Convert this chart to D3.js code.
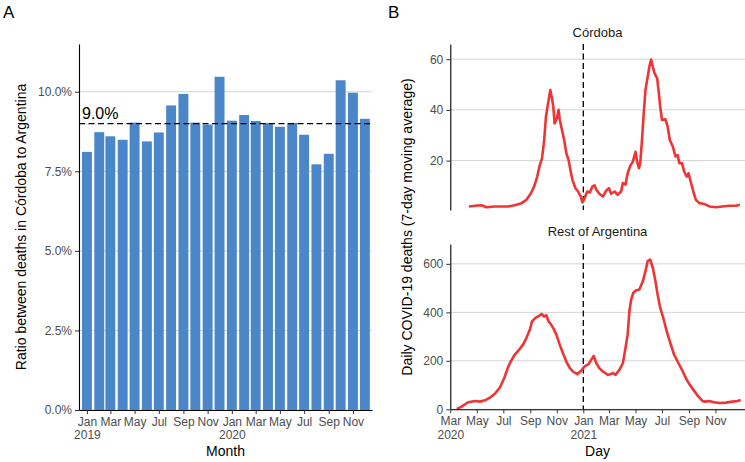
<!DOCTYPE html>
<html><head><meta charset="utf-8">
<script src="https://cdn.jsdelivr.net/npm/d3@7"></script>
<style>body{margin:0;background:#fff}svg{display:block;font-family:"Liberation Sans",Arial,sans-serif}</style>
</head><body><svg width="745" height="462"></svg>
<script>
// ---------- DATA ----------
const months = ["2019-01-01","2019-02-01","2019-03-01","2019-04-01","2019-05-01","2019-06-01","2019-07-01","2019-08-01","2019-09-01","2019-10-01","2019-11-01","2019-12-01",
"2020-01-01","2020-02-01","2020-03-01","2020-04-01","2020-05-01","2020-06-01","2020-07-01","2020-08-01","2020-09-01","2020-10-01","2020-11-01","2020-12-01"];
const ratioPct = [8.11,8.73,8.60,8.49,9.03,8.44,8.72,9.57,9.93,9.03,8.97,10.47,9.09,9.27,9.08,9.02,8.90,9.02,8.65,7.72,8.05,10.36,9.97,9.15];
const meanRatio = 9.0;
const ratioTicks = [0,2.5,5,7.5,10];
const monthTicks = ["2019-01-01","2019-03-01","2019-05-01","2019-07-01","2019-09-01","2019-11-01","2020-01-01","2020-03-01","2020-05-01","2020-07-01","2020-09-01","2020-11-01"];

const cordobaDates = ["2020-04-13","2020-04-27","2020-05-12","2020-05-23","2020-06-11","2020-07-12","2020-07-27","2020-08-12","2020-08-23","2020-09-02","2020-09-10","2020-09-17","2020-09-23","2020-09-28","2020-10-03","2020-10-07","2020-10-12","2020-10-17","2020-10-21","2020-10-24","2020-10-27","2020-11-01","2020-11-05","2020-11-08","2020-11-13","2020-11-18","2020-11-23","2020-11-28","2020-12-03","2020-12-07","2020-12-14","2020-12-20","2020-12-26","2020-12-30",
"2021-01-04","2021-01-10","2021-01-16","2021-01-22","2021-01-27","2021-01-31","2021-02-07","2021-02-15","2021-02-23","2021-03-01","2021-03-06","2021-03-14","2021-03-21","2021-03-29","2021-04-02","2021-04-08","2021-04-13","2021-04-19","2021-04-25","2021-05-01","2021-05-05","2021-05-09","2021-05-12","2021-05-16","2021-05-20","2021-05-24","2021-05-29","2021-06-02","2021-06-06","2021-06-10","2021-06-14","2021-06-20","2021-06-23","2021-06-27","2021-07-01","2021-07-09","2021-07-14","2021-07-19","2021-07-26","2021-08-01","2021-08-06","2021-08-10","2021-08-16","2021-08-21","2021-08-27","2021-08-31","2021-09-06","2021-09-11","2021-09-17","2021-09-25","2021-10-06","2021-10-18","2021-11-02","2021-11-17","2021-12-03","2021-12-18","2021-12-27"];
const cordobaDeaths = [1.9,2.2,2.4,1.6,1.9,1.9,2.4,3.2,4.5,6.9,9.8,13.7,18.3,20.9,28.1,37.3,42.6,47.8,44.5,41.2,34.7,36.5,40,36,32,28.1,22.9,20.3,15.7,12.4,9.1,7.8,5.8,3.5,
5.2,7.8,7.4,9.8,10.2,8.5,6.9,5.8,8.2,9.1,6.9,7.8,6.5,7.8,11.1,10.5,15.0,17.9,19.6,23.5,19.6,17,19,28.1,38.6,47.8,53,57,59.9,57,54.4,52.4,47.8,41.2,36,36.3,33.4,28.1,25.5,21.6,22.2,19,19,15.7,13.7,15,11.1,7.8,4.5,3.2,2.9,1.9,1.6,1.9,2.2,2.2,2.6];

const restDates = ["2020-03-16","2020-03-27","2020-04-11","2020-04-27","2020-05-08","2020-05-20","2020-05-31","2020-06-12","2020-06-23","2020-07-03","2020-07-11","2020-07-18","2020-07-27","2020-08-06","2020-08-16","2020-08-23","2020-08-31","2020-09-05","2020-09-13","2020-09-21","2020-09-27","2020-10-03","2020-10-08","2020-10-13","2020-10-18","2020-10-24","2020-10-31","2020-11-08","2020-11-15","2020-11-23","2020-12-01","2020-12-08","2020-12-18","2020-12-27",
"2021-01-04","2021-01-13","2021-01-19","2021-01-25","2021-01-31","2021-02-07","2021-02-15","2021-02-27","2021-03-10","2021-03-16","2021-03-25","2021-04-02","2021-04-08","2021-04-13","2021-04-17","2021-04-21","2021-04-26","2021-05-02","2021-05-10","2021-05-18","2021-05-24","2021-05-29","2021-06-04","2021-06-10","2021-06-16","2021-06-21","2021-06-27","2021-07-04","2021-07-12","2021-07-19","2021-07-29","2021-08-08","2021-08-16","2021-08-25","2021-09-03","2021-09-13","2021-09-23","2021-10-02","2021-10-08","2021-10-18","2021-10-29","2021-11-10","2021-11-25","2021-12-10","2021-12-22","2021-12-29"];
const restDeaths = [1.4,11,29,34.5,31.7,37,48,65,90,128,170,197,225,245,269,294,328,363,377,385,393,383,388,363,352,335,308,266,232,197,170,156,145,159,
177,186,204,220,190,170,156,142,149,142,163,190,252,308,404,452,480,490,494,528,570,611,618,583,528,473,418,377,321,280,225,190,163,128,101,76,52,34.5,31.7,34.5,29,26,27.6,31.7,34.5,38.6];

const cordobaTicks = [20,40,60];
const restTicks = [0,200,400,600];
const dayTicks = ["2020-03-01","2020-05-01","2020-07-01","2020-09-01","2020-11-01","2021-01-01","2021-03-01","2021-05-01","2021-07-01","2021-09-01","2021-11-01"];
const cutoffDate = "2021-01-01";

// ---------- SETUP ----------
const P = d3.timeParse("%Y-%m-%d");
const svg = d3.select("svg");
const FONT_TICK = 12, FONT_TITLE = 14;
const gridCol = "#d4d4d4", tickTextCol = "#4d4d4d";
const barCol = "#4a86c8", lineCol = "#ee3434";
const monthFmt = d3.timeFormat("%b"), yearFmt = d3.timeFormat("%Y");

function styleAxis(g) {
  g.select(".domain").attr("stroke", "#000").attr("stroke-width", 1.1);
  g.selectAll(".tick line").attr("stroke", "#333").attr("stroke-width", 1);
  g.selectAll(".tick text").attr("fill", tickTextCol).attr("font-size", FONT_TICK).attr("font-family", null);
}
function twoLineTicks(g) {
  g.selectAll(".tick text").each(function(d, i) {
    const t = d3.select(this); t.text(null);
    t.append("tspan").attr("x", 0).attr("dy", "0.71em").text(monthFmt(d));
    if (i === 0 || d.getMonth() === 0) {
      t.append("tspan").attr("x", 0).attr("dy", "1.15em").text(yearFmt(d));
    }
  });
}

// ---------- PANEL A ----------
const xA = d3.scaleTime().domain([P("2018-12-12"), P("2020-12-19")]).range([79, 372]);
const yA = d3.scaleLinear().domain([0, 11.5]).range([410, 44]);
const halfBar = 12.5 * 864e5;

svg.append("g").selectAll("line").data(ratioTicks).join("line")
  .attr("x1", 79).attr("x2", 372).attr("y1", d => yA(d)).attr("y2", d => yA(d))
  .attr("stroke", gridCol).attr("stroke-width", 1);

svg.append("g").selectAll("rect").data(months).join("rect")
  .attr("x", d => xA(new Date(+P(d) - halfBar)))
  .attr("width", d => xA(new Date(+P(d) + halfBar)) - xA(new Date(+P(d) - halfBar)))
  .attr("y", (d, i) => yA(ratioPct[i]))
  .attr("height", (d, i) => yA(0) - yA(ratioPct[i]))
  .attr("fill", barCol);

svg.append("line").attr("x1", 79).attr("x2", 372).attr("y1", yA(meanRatio)).attr("y2", yA(meanRatio))
  .attr("stroke", "#000").attr("stroke-width", 1.3).attr("stroke-dasharray", "6,3.5");
svg.append("text").attr("x", 82).attr("y", yA(meanRatio) - 5).attr("font-size", 16).attr("fill", "#000")
  .text(d3.format(".1f")(meanRatio) + "%");

svg.append("g").attr("transform", "translate(79,0)")
  .call(d3.axisLeft(yA).tickValues(ratioTicks).tickFormat(d => d3.format(".1f")(d) + "%").tickSize(4).tickPadding(3).tickSizeOuter(0))
  .call(styleAxis);
svg.append("g").attr("transform", "translate(0,410)")
  .call(d3.axisBottom(xA).tickValues(monthTicks.map(P)).tickSize(4).tickPadding(3).tickSizeOuter(0))
  .call(styleAxis).call(twoLineTicks);

svg.append("text").attr("x", 225.5).attr("y", 456).attr("text-anchor", "middle").attr("font-size", FONT_TITLE).text("Month");
svg.append("text").attr("transform", "translate(26,227) rotate(-90)").attr("text-anchor", "middle").attr("font-size", FONT_TITLE)
  .text("Ratio between deaths in Córdoba to Argentina");
svg.append("text").attr("x", 3).attr("y", 18).attr("font-size", 17).text("A");

// ---------- PANEL B ----------
const xB = d3.scaleTime().domain([P("2020-03-01"), P("2022-01-08")]).range([450.3, 745]);
const panels = [
  { name: "Córdoba", dates: cordobaDates, vals: cordobaDeaths, ticks: cordobaTicks, y: d3.scaleLinear().domain([0.5, 66]).range([210, 44]), top: 44, bottom: 210, stripY: 36.5, xAxis: false },
  { name: "Rest of Argentina", dates: restDates, vals: restDeaths, ticks: restTicks, y: d3.scaleLinear().domain([0, 682]).range([409.3, 244]), top: 244, bottom: 409.3, stripY: 236, xAxis: true }
];
panels.forEach(p => {
  const g = svg.append("g");
  g.selectAll("line.grid").data(p.ticks).join("line").attr("class", "grid")
    .attr("x1", 450.3).attr("x2", 745).attr("y1", d => p.y(d)).attr("y2", d => p.y(d))
    .attr("stroke", gridCol).attr("stroke-width", 1);
  g.append("line").attr("x1", xB(P(cutoffDate))).attr("x2", xB(P(cutoffDate))).attr("y1", p.top).attr("y2", p.bottom)
    .attr("stroke", "#000").attr("stroke-width", 1.3).attr("stroke-dasharray", "6,3.5");
  const pts = p.dates.map((d, i) => [P(d), p.vals[i]]);
  g.append("path").datum(pts)
    .attr("d", d3.line().x(d => xB(d[0])).y(d => p.y(d[1])))
    .attr("fill", "none").attr("stroke", lineCol).attr("stroke-width", 2.6).attr("stroke-linejoin", "round");
  g.append("g").attr("transform", "translate(450.3,0)")
    .call(d3.axisLeft(p.y).tickValues(p.ticks).tickSize(4).tickPadding(3).tickSizeOuter(0))
    .call(styleAxis);
  if (p.xAxis) {
    g.append("g").attr("transform", `translate(0,${p.bottom})`)
      .call(d3.axisBottom(xB).tickValues(dayTicks.map(P)).tickSize(4).tickPadding(3).tickSizeOuter(0))
      .call(styleAxis).call(twoLineTicks);
  }
  g.append("text").attr("x", 597.5).attr("y", p.stripY).attr("text-anchor", "middle").attr("font-size", 13).attr("fill", "#1a1a1a").text(p.name);
});
svg.append("text").attr("x", 597.5).attr("y", 456).attr("text-anchor", "middle").attr("font-size", FONT_TITLE).text("Day");
svg.append("text").attr("transform", "translate(412,227) rotate(-90)").attr("text-anchor", "middle").attr("font-size", FONT_TITLE)
  .text("Daily COVID-19 deaths (7-day moving average)");
svg.append("text").attr("x", 388).attr("y", 18).attr("font-size", 17).text("B");
</script></body></html>
